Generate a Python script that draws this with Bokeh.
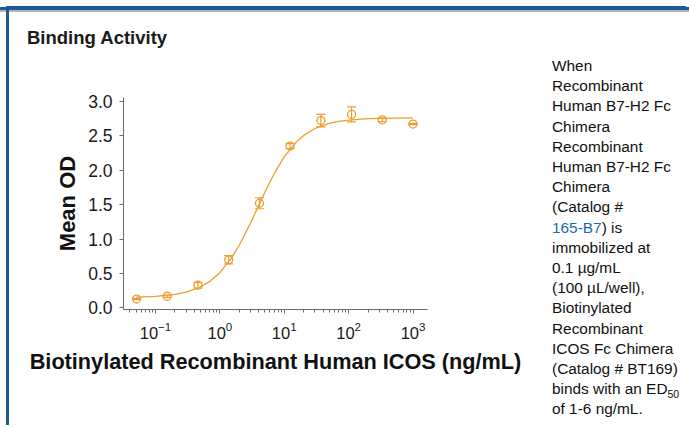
from bokeh.plotting import figure
from bokeh.models import (Range1d, Whisker, TeeHead, ColumnDataSource,
                          FixedTicker, PrintfTickFormatter, Div)
from bokeh.layouts import column, row
from bokeh.embed import file_html
from bokeh.resources import INLINE

# ---------------- data ----------------
conc = [0.0508, 0.152, 0.457, 1.37, 4.12, 12.3, 37.0, 111.0, 333.0, 1000.0]
mean_od = [0.13, 0.17, 0.33, 0.70, 1.52, 2.35, 2.72, 2.81, 2.73, 2.67]
sd = [0.01, 0.015, 0.04, 0.06, 0.08, 0.035, 0.09, 0.11, 0.025, 0.01]

fit_x = [0.05, 0.1, 0.2, 0.3, 0.5, 0.7, 1.0, 1.5, 2.0, 3.0, 4.0, 5.0, 7.0,
         10.0, 15.0, 20.0, 30.0, 50.0, 70.0, 100.0, 200.0, 500.0, 1000.0]
fit_y = [0.157, 0.169, 0.197, 0.230, 0.305, 0.387, 0.513, 0.720, 0.911,
         1.235, 1.486, 1.681, 1.953, 2.194, 2.400, 2.505, 2.606, 2.680,
         2.709, 2.728, 2.747, 2.756, 2.759]

y_ticks = [0.0, 0.5, 1.0, 1.5, 2.0, 2.5, 3.0]
x_ticks = [0.1, 1, 10, 100, 1000]

title_text = "Binding Activity"
x_label = "Biotinylated Recombinant Human ICOS (ng/mL)"
y_label = "Mean OD"
side_lines = ["When", "Recombinant", "Human B7-H2 Fc", "Chimera", "Recombinant",
              "Human B7-H2 Fc", "Chimera", "(Catalog #",
              '<span style="color:#1a6bb5">165-B7</span>) is',
              "immobilized at", "0.1 \u00b5g/mL", "(100 \u00b5L/well),",
              "Biotinylated", "Recombinant", "ICOS Fc Chimera",
              "(Catalog # BT169)",
              'binds with an ED<sub style="font-size:10.5px;line-height:0;'
              'vertical-align:-4px">50</sub>',
              "of 1-6 ng/mL."]

# ---------------- styling ----------------
ORANGE = "#EE9E2E"
BLUE = "#1d5b9b"
FONT = "Liberation Sans"

W, H = 540, 374
FL, FR, FT, FB = 114, 418, 46, 258    # frame edges in canvas px
X0, X1 = -1.497, 3.225                # log10 x range
Y0, Y1 = -0.022, 3.055

p = figure(width=W, height=H, output_backend="svg", toolbar_location=None,
           x_axis_type="log",
           x_range=Range1d(10 ** X0, 10 ** X1), y_range=Range1d(Y0, Y1),
           min_border_left=FL, min_border_right=W - FR,
           min_border_top=FT, min_border_bottom=H - FB, margin=0)
p.outline_line_color = None
p.grid.visible = False
p.background_fill_color = "white"
p.border_fill_color = "white"

for ax in (p.xaxis[0], p.yaxis[0]):
    ax.axis_line_color = "#6a6a6a"
    ax.major_tick_line_color = "#6a6a6a"
    ax.minor_tick_line_color = "#6a6a6a"
    ax.major_tick_in = 0
    ax.major_tick_out = 4
    ax.minor_tick_in = 0
    ax.minor_tick_out = 3
    ax.major_label_text_font = FONT
    ax.major_label_text_color = "#1a1a1a"
    ax.major_label_text_font_size = "17.5px"
    ax.axis_label_text_font = FONT
    ax.axis_label_text_font_style = "bold"
    ax.axis_label_text_color = "#111111"

p.yaxis.ticker = FixedTicker(ticks=y_ticks)
p.yaxis.formatter = PrintfTickFormatter(format="%.1f")
p.yaxis.minor_tick_line_color = None
p.yaxis.major_label_standoff = 7
p.yaxis.axis_label = y_label
p.yaxis.axis_label_text_font_size = "22px"
p.yaxis.axis_label_standoff = 5

p.xaxis.ticker.desired_num_ticks = len(x_ticks)
p.xaxis.major_label_standoff = 8
p.xaxis.major_label_text_font_size = "16.5px"
p.xaxis.axis_label = x_label
p.xaxis.axis_label_text_font_size = "21.7px"
p.xaxis.axis_label_standoff = 7

# fitted curve
p.line(fit_x, fit_y, line_color=ORANGE, line_width=1.3)

# error bars and points
src = ColumnDataSource(dict(x=conc, y=mean_od,
                            upper=[m + s for m, s in zip(mean_od, sd)],
                            lower=[m - s for m, s in zip(mean_od, sd)]))
p.add_layout(Whisker(source=src, base="x", upper="upper", lower="lower",
                     line_color=ORANGE, line_width=1.2,
                     upper_head=TeeHead(size=9, line_color=ORANGE, line_width=1.2),
                     lower_head=TeeHead(size=9, line_color=ORANGE, line_width=1.2)))
p.scatter("x", "y", source=src, marker="circle", size=8, fill_color=None,
          line_color=ORANGE, line_width=1.3)

# ---------------- page furniture ----------------
stripe = Div(text=('<div style="width:689px;height:3px;background:%s"></div>'
                   '<div style="width:689px;height:2px;background:#b4b4b4"></div>') % BLUE,
             width=689, height=6, margin=0)

title_div = Div(text=('<div style="font-family:\'%s\';font-weight:bold;font-size:18.5px;'
                      'color:#1a1a1a;padding:19px 0 0 18px;line-height:20px;'
                      'white-space:nowrap">%s</div>') % (FONT, title_text),
                width=W + 137, height=42, margin=0)

side_div = Div(text=('<div style="font-family:\'%s\';font-size:15.4px;color:#111111;'
                     'line-height:20.2px;padding:5px 0 0 3px;white-space:nowrap">%s</div>')
               % (FONT, "<br>".join(side_lines)),
               width=137, height=H, margin=0)

box = column(title_div, row(p, side_div, margin=0, spacing=0),
             margin=(0, 0, 0, 6), spacing=0,
             styles={"border-left": "3px solid " + BLUE,
                     "border-top": "3px solid " + BLUE})
page = column(stripe, box, margin=0, spacing=0)

open("out.html", "w").write(file_html(page, INLINE))
